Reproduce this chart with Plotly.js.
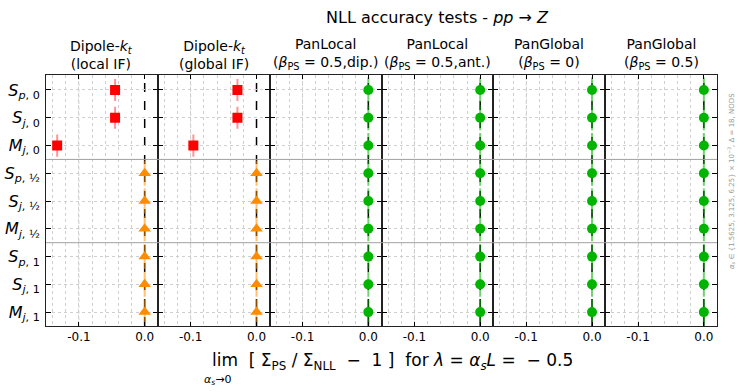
<!DOCTYPE html>
<html>
<head>
<meta charset="utf-8">
<script src="https://cdn.plot.ly/plotly-3.0.1.min.js"></script>
<style>body{margin:0;background:#fff}#plotlyArea{width:747px;height:392px}</style>
</head>
<body>
<div id="plotlyArea"></div>
<script>
// rows of the test grid (top to bottom)
var rowIndex = [0, 1, 2, 3, 4, 5, 6, 7, 8];
var rowLabels = [
    '<i>S</i><sub><i>p</i>, 0</sub>',
    '<i>S</i><sub><i>j</i>, 0</sub>',
    '<i>M</i><sub><i>j</i>, 0</sub>',
    '<i>S</i><sub><i>p</i>, ½</sub>',
    '<i>S</i><sub><i>j</i>, ½</sub>',
    '<i>M</i><sub><i>j</i>, ½</sub>',
    '<i>S</i><sub><i>p</i>, 1</sub>',
    '<i>S</i><sub><i>j</i>, 1</sub>',
    '<i>M</i><sub><i>j</i>, 1</sub>'
];
var panelTitles = [
    'Dipole-<i>k</i><sub><i>t</i></sub><br>(local IF)',
    'Dipole-<i>k</i><sub><i>t</i></sub><br>(global IF)',
    'PanLocal<br>(<i>β</i><sub>PS</sub> = 0.5,dip.)',
    'PanLocal<br>(<i>β</i><sub>PS</sub> = 0.5,ant.)',
    'PanGlobal<br>(<i>β</i><sub>PS</sub> = 0)',
    'PanGlobal<br>(<i>β</i><sub>PS</sub> = 0.5)'
];
var xTickVals = [-0.1, 0.0];
var xTickText = ['-0.1', '0.0'];
var xGridVals = [-0.14, -0.12, -0.1, -0.08, -0.06, -0.04, -0.02];

// deviation from NLL for each shower, one value per row
var dipoleLocal  = [-0.045, -0.045, -0.133, 0, 0, 0, 0, 0, 0];
var dipoleGlobal = [-0.029, -0.029, -0.096, 0, 0, 0, 0, 0, 0];
var panLocalDip  = [0, 0, 0, 0, 0, 0, 0, 0, 0];
var panLocalAnt  = [0, 0, 0, 0, 0, 0, 0, 0, 0];
var panGlobal0   = [0, 0, 0, 0, 0, 0, 0, 0, 0];
var panGlobal05  = [0, 0, 0, 0, 0, 0, 0, 0, 0];

var panels = [dipoleLocal, dipoleGlobal, panLocalDip, panLocalAnt, panGlobal0, panGlobal05];

var red = '#ff0000', orange = '#ff8c00', green = '#00b400';
var gridCol = '#cfcfcf';

function errStyle(col, v) {
    return {type: 'constant', value: v, width: 0, thickness: 2, color: col};
}

var data = [];
panels.forEach(function(vals, p) {
    var xa = p === 0 ? 'x' : 'x' + (p + 1);
    var ya = p === 0 ? 'y' : 'y' + (p + 1);
    if (p < 2) {
        // beta_obs = 0 rows fail, the rest agree
        data.push({
            x: vals.slice(0, 3), y: rowIndex.slice(0, 3), xaxis: xa, yaxis: ya,
            mode: 'markers', type: 'scatter',
            marker: {symbol: 'square', size: 10, color: red},
            error_y: errStyle('rgba(255,60,60,0.55)', 0.4)
        });
        data.push({
            x: vals.slice(3), y: rowIndex.slice(3), xaxis: xa, yaxis: ya,
            mode: 'markers', type: 'scatter',
            marker: {symbol: 'triangle-up', size: 11, color: orange},
            error_y: errStyle('rgba(255,140,0,0.55)', 0.45)
        });
    } else {
        data.push({
            x: vals, y: rowIndex, xaxis: xa, yaxis: ya,
            mode: 'markers', type: 'scatter',
            marker: {symbol: 'circle', size: 10, color: green},
            error_y: errStyle('rgba(0,170,0,0.55)', 0.45)
        });
    }
});

var layout = {
    width: 747, height: 392,
    margin: {l: 46, r: 30, t: 75, b: 66},
    paper_bgcolor: '#fff', plot_bgcolor: '#fff',
    showlegend: false,
    font: {family: 'DejaVu Sans', color: '#000'},
    shapes: [],
    annotations: []
};

var n = panels.length;
for (var p = 0; p < n; p++) {
    var xk = p === 0 ? 'xaxis' : 'xaxis' + (p + 1);
    var yk = p === 0 ? 'yaxis' : 'yaxis' + (p + 1);
    var xr = p === 0 ? 'x' : 'x' + (p + 1);
    var yr = p === 0 ? 'y' : 'y' + (p + 1);
    layout[xk] = {
        domain: [p / n, (p + 1) / n], anchor: yr,
        range: [-0.15, 0.02], tickvals: xTickVals, ticktext: xTickText,
        ticks: 'inside', ticklen: 4, tickwidth: 1, tickcolor: '#000',
        showline: true, linecolor: '#222', linewidth: 1, mirror: 'allticks',
        showgrid: false,
        minor: {tickvals: xGridVals, showgrid: true, gridcolor: gridCol, griddash: 'dot', gridwidth: 1},
        zeroline: false, tickfont: {size: 12}, fixedrange: true
    };
    layout[yk] = {
        anchor: xr, range: [8.5, -0.54],
        tickvals: rowIndex, ticktext: rowLabels, showticklabels: p === 0,
        ticks: 'inside', ticklen: 5, tickwidth: 1, tickcolor: '#000',
        showline: true, linecolor: '#222', linewidth: 1, mirror: 'allticks',
        showgrid: true, gridcolor: gridCol, griddash: 'dot', gridwidth: 1,
        zeroline: false, tickfont: {size: 16}, ticklabelstandoff: 2, fixedrange: true
    };
    if (p > 0) layout[yk].matches = 'y';
    // grid line at -0.1 (minor grid skips major positions)
    layout.shapes.push({
        type: 'line', xref: xr, yref: yr + ' domain', x0: -0.1, x1: -0.1, y0: 0, y1: 1,
        line: {color: gridCol, width: 1, dash: 'dot'}, layer: 'below'
    });
    // reference line at zero
    layout.shapes.push({
        type: 'line', xref: xr, yref: yr + ' domain', x0: 0, x1: 0, y0: 0, y1: 1,
        line: {color: '#000', width: 1.5, dash: 'dash'}, layer: 'below'
    });
    layout.annotations.push({
        text: panelTitles[p], xref: 'paper', yref: 'paper',
        x: (p + 0.5) / n, y: 1.003, xanchor: 'center', yanchor: 'bottom',
        showarrow: false, font: {size: 14}
    });
}

// separators between beta_obs groups
[2.5, 5.5].forEach(function(v) {
    layout.shapes.push({
        type: 'line', xref: 'paper', yref: 'y', x0: 0, x1: 1, y0: v, y1: v,
        line: {color: '#a0a0a0', width: 1}, layer: 'above'
    });
});

layout.annotations.push({
    text: 'NLL accuracy tests - <i>pp</i> → <i>Z</i>', xref: 'paper', yref: 'paper',
    x: (437 - 46) / 671, y: 1.23, xanchor: 'center', yanchor: 'middle',
    showarrow: false, font: {size: 16}
});
layout.annotations.push({
    text: 'lim  [ Σ<sub>PS</sub> / Σ<sub>NLL</sub>  −  1 ]  for <i>λ</i> = <i>α<sub>s</sub>L</i> =  − 0.5',
    xref: 'paper', yref: 'paper', x: (392 - 46) / 671, y: -0.14,
    xanchor: 'center', yanchor: 'middle', showarrow: false, font: {size: 17}
});
layout.annotations.push({
    text: '<i>α<sub>s</sub></i>→0', xref: 'paper', yref: 'paper',
    x: (218 - 46) / 671, y: -0.215, xanchor: 'center', yanchor: 'middle',
    showarrow: false, font: {size: 11}
});
layout.annotations.push({
    text: '<i>α<sub>s</sub></i> ∈ {1.5625, 3.125, 6.25} × 10<sup>−3</sup>, Δ = 18, NODS',
    xref: 'paper', yref: 'paper', x: (731 - 46) / 671, y: (326 - 181) / 251,
    xanchor: 'center', yanchor: 'middle', textangle: -90,
    showarrow: false, font: {size: 7, color: '#999'}
});

Plotly.newPlot('plotlyArea', data, layout, {displayModeBar: false, staticPlot: true});
</script>
</body>
</html>
